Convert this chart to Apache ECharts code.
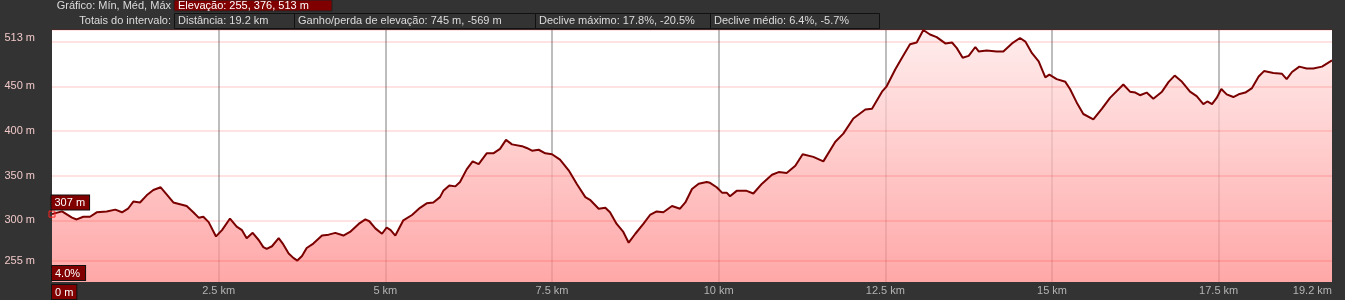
<!DOCTYPE html>
<html>
<head>
<meta charset="utf-8">
<script src="https://cdn.jsdelivr.net/npm/echarts@6/dist/echarts.min.js"></script>
<style>
html,body{margin:0;padding:0;background:#333;}
#c{width:1345px;height:300px;}
</style>
</head>
<body>
<div id="c"></div>
<script>
// ---- data ----
const distKm = [0,0.15,0.30,0.37,0.47,0.57,0.67,0.82,0.95,1.05,1.14,1.22,1.32,1.42,1.52,1.63,1.71,1.82,1.92,2.02,2.12,2.20,2.27,2.35,2.46,2.55,2.67,2.77,2.85,2.92,3.01,3.10,3.17,3.22,3.30,3.40,3.47,3.55,3.62,3.68,3.75,3.82,3.92,4.05,4.15,4.25,4.37,4.47,4.60,4.70,4.76,4.85,4.95,5.02,5.08,5.15,5.27,5.40,5.52,5.62,5.72,5.82,5.87,5.96,6.05,6.12,6.22,6.31,6.40,6.52,6.62,6.72,6.81,6.90,7.05,7.12,7.20,7.30,7.40,7.50,7.62,7.75,7.87,8.00,8.07,8.20,8.30,8.37,8.47,8.57,8.65,8.75,8.87,8.97,9.07,9.17,9.30,9.42,9.50,9.60,9.70,9.82,9.87,9.97,10.05,10.12,10.17,10.27,10.42,10.52,10.65,10.80,10.90,11.02,11.15,11.26,11.42,11.57,11.75,11.87,12.02,12.20,12.30,12.45,12.52,12.65,12.75,12.87,12.97,13.07,13.17,13.27,13.40,13.50,13.57,13.66,13.75,13.85,13.90,14.02,14.17,14.27,14.40,14.52,14.60,14.70,14.80,14.90,14.96,15.07,15.20,15.27,15.37,15.47,15.62,15.75,15.87,16.07,16.17,16.25,16.32,16.42,16.52,16.65,16.75,16.84,16.95,17.07,17.17,17.27,17.33,17.40,17.47,17.54,17.62,17.72,17.80,17.90,18.00,18.10,18.18,18.32,18.45,18.52,18.60,18.71,18.82,18.92,19.05,19.2];
const elevM = [307,310,303,301,304,304,309,310,312,309,313,321,320,328,334,337,330,320,318,316,309,303,304,298,282,289,302,293,289,280,286,278,270,268,271,280,273,263,258,255,260,269,274,283,284,286,283,287,296,301,299,291,285,292,289,283,300,306,314,319,320,326,333,339,338,343,357,366,363,375,375,380,390,385,383,381,378,379,375,374,368,356,341,326,323,313,314,309,296,287,275,285,296,306,310,309,316,313,320,335,341,343,342,337,331,331,327,333,333,330,341,351,354,353,361,374,371,366,388,397,414,424,425,444,450,469,482,497,499,513,508,505,498,499,493,482,484,494,489,490,489,489,498,504,500,487,478,460,463,458,455,447,432,419,413,425,437,452,444,443,440,443,436,444,455,462,455,444,439,430,433,430,437,447,441,438,441,443,448,461,467,465,464,458,466,472,470,470,472,479];
const totalKm = 19.2;
const xTickStep = 2.5;
const yMin = 231;
const yMax = 513;
const yGridValues = [255,300,350,400,450,500,513];
const yLabelValues = [255,300,350,400,450,513];
const startGrade = '4.0%';
const headerRow1Label = 'Gráfico: Mín, Méd, Máx';
const headerRow1Box = 'Elevação: 255, 376, 513 m';
const headerRow2Label = 'Totais do intervalo:';
const headerRow2Boxes = ['Distância: 19.2 km','Ganho/perda de elevação: 745 m, -569 m','Declive máximo: 17.8%, -20.5%','Declive médio: 6.4%, -5.7%'];

// ---- layout (not data) ----
const FONT = '"Liberation Sans", Arial, sans-serif';
const row2Edges = [174, 294, 535, 710, 879];

const points = distKm.map((d, i) => [d, elevM[i]]);

const graphics = [];
graphics.push({type:'text', right: 1345-171, top: 0, z: 10,
  style:{text: headerRow1Label, fill:'#dcdcdc', font:'11px '+FONT, textAlign:'right'}});
graphics.push({type:'rect', shape:{x:174, y:0, width:158, height:11}, z:10,
  style:{fill:'#800000', stroke:'#222', lineWidth:1}});
graphics.push({type:'text', x:178, y:0, z:11,
  style:{text: headerRow1Box, fill:'#ffffff', font:'11px '+FONT}});
graphics.push({type:'text', x:171, y:15, z:10,
  style:{text: headerRow2Label, fill:'#dcdcdc', font:'11px '+FONT, textAlign:'right'}});
headerRow2Boxes.forEach((t, i) => {
  const x0 = row2Edges[i], x1 = row2Edges[i+1];
  graphics.push({type:'rect', shape:{x:x0+0.5, y:13.5, width:x1-x0, height:15}, z:10,
    style:{fill:'#333', stroke:'#111', lineWidth:1}});
  graphics.push({type:'text', x:x0+4, y:15, z:11,
    style:{text:t, fill:'#dcdcdc', font:'11px '+FONT}});
});
graphics.push({type:'text', x:52, y:266, z:12,
  style:{text: startGrade, fill:'#ffffff', font:'11px '+FONT, backgroundColor:'#800000',
         borderColor:'#111', borderWidth:1, padding:[2,5,1,3]}});

const chart = echarts.init(document.getElementById('c'), null, {renderer:'canvas'});
chart.setOption({
  backgroundColor: '#333',
  animation: false,
  textStyle: {fontFamily: FONT},
  grid: {left: 52, right: 13, top: 30, bottom: 18, show: true, backgroundColor: '#ffffff', borderWidth: 0},
  xAxis: {
    type: 'value', min: 0, max: totalKm, interval: xTickStep,
    axisLine: {show: false}, axisTick: {show: false},
    splitLine: {show: true, showMinLine: false, showMaxLine: false, lineStyle: {color: '#bdbdbd', width: 2}},
    axisLabel: {
      margin: 3, color: '#b4b4b4', fontSize: 11, fontFamily: FONT,
      showMinLabel: true, showMaxLabel: true, alignMinLabel: 'left', alignMaxLabel: 'right',
      formatter: v => v === 0 ? '{box|0 m}' : (Math.round(v*10)/10) + ' km',
      rich: {box: {backgroundColor: '#800000', borderColor: '#111', borderWidth: 1, color: '#fff',
                   padding: [2,3,1,3], fontSize: 11, fontFamily: FONT}}
    }
  },
  yAxis: {
    type: 'value', min: yMin, max: yMax,
    axisLine: {show: false}, axisTick: {show: false}, axisLabel: {show: false}, splitLine: {show: false}
  },
  graphic: graphics,
  series: [
    {
      type: 'line', name: 'fill', data: points, z: 2, silent: true,
      symbol: 'none', lineStyle: {width: 0, opacity: 0},
      areaStyle: {
        origin: 'start', opacity: 1,
        color: new echarts.graphic.LinearGradient(0, 0, 0, 1, [
          {offset: 0, color: 'rgba(255,232,232,0.76)'},
          {offset: 1, color: 'rgba(255,140,140,0.76)'}
        ])
      }
    },
    {
      type: 'line', name: 'grid', data: [], z: 3, silent: true,
      markLine: {
        silent: true, symbol: 'none', animation: false,
        lineStyle: {color: 'rgba(255,0,0,0.11)', width: 2, type: 'solid'},
        label: {position: 'start', distance: 17, color: '#f0c8c8', fontSize: 11, fontFamily: FONT},
        data: yGridValues.map(v => ({
          yAxis: v,
          label: {show: yLabelValues.includes(v), formatter: v + ' m', offset: v === yMax ? [0, 8] : [0, 0]}
        }))
      }
    },
    {
      type: 'line', name: 'Elevação', data: points, z: 4,
      symbol: 'none', smooth: false,
      lineStyle: {color: '#7a0000', width: 2},
      markPoint: {
        animation: false, silent: true,
        symbol: 'rect', symbolSize: 6,
        itemStyle: {color: 'rgba(0,0,0,0)', borderColor: '#ff2020', borderWidth: 1},
        label: {
          show: true, position: [3, -15], formatter: p => p.value + ' m',
          color: '#fff', fontSize: 11, fontFamily: FONT, backgroundColor: '#800000',
          borderColor: '#111', borderWidth: 1, padding: [2,4,1,3]
        },
        data: [{coord: points[0], value: elevM[0]}]
      }
    }
  ]
});
</script>
</body>
</html>
